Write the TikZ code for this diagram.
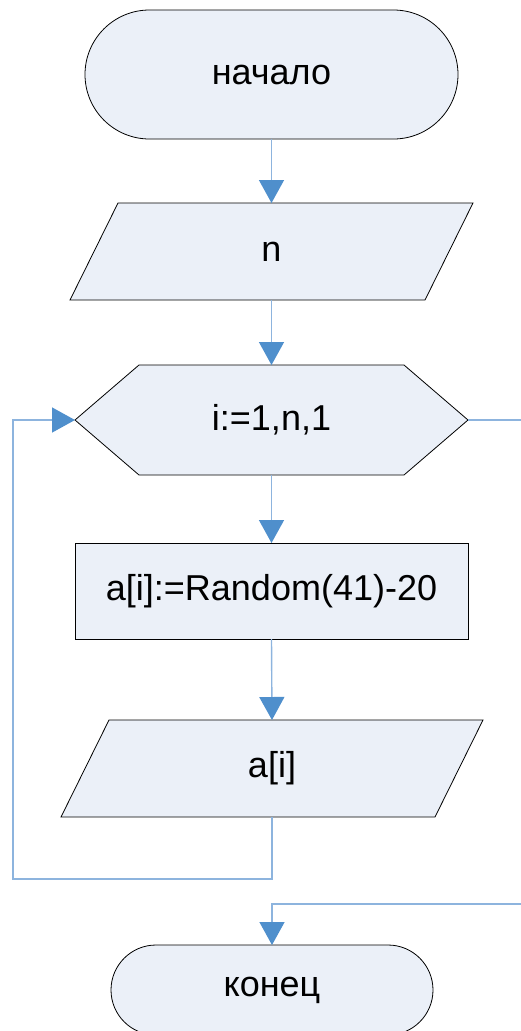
\documentclass[tikz,border=0pt]{standalone}
\usepackage{fontspec}
\setmainfont{Liberation Sans}
\usetikzlibrary{shapes.misc,arrows.meta}
\definecolor{shapefill}{RGB}{235,240,248}
\definecolor{lineblue}{RGB}{141,180,222}
\definecolor{arrowblue}{RGB}{79,143,204}
\begin{document}
\begin{tikzpicture}[x=1pt,y=-1pt,
  txt/.style={font=\fontsize{36}{40}\selectfont, inner sep=0pt, outer sep=0pt},
  outline/.style={draw=black, line width=0.8pt, fill=shapefill},
  termbox/.style={outline, txt, rounded rectangle, rounded rectangle arc length=180},
  procbox/.style={outline, txt, rectangle},
  frame/.style={txt, rectangle, draw=none},
  conn/.style={draw=lineblue, line width=1.4pt},
  arr/.style={conn, -{Triangle[width=25pt,length=23pt,color=arrowblue]}}
]
\useasboundingbox (0,0) rectangle (520,1031);

% start
\node[termbox, minimum width=373pt, minimum height=129pt] (start) at (271.5,74.5) {начало};

% input n
\filldraw[outline] (118,203) -- (473,203) -- (425,300) -- (70,300) -- cycle;
\node[frame, minimum width=403pt, minimum height=97pt] (in1) at (271.5,251.5) {n};

% loop hexagon
\filldraw[outline] (75,420) -- (139,365) -- (404,365) -- (468,420) -- (404,475) -- (139,475) -- cycle;
\node[frame, minimum width=393pt, minimum height=110pt] (loop) at (271.5,420) {i:=1,n,1};

% process
\node[procbox, minimum width=393pt, minimum height=96pt] (proc) at (271.5,591) {a[i]:=Random(41)-20};

% output a[i]
\filldraw[outline] (109,720) -- (483,720) -- (435,817) -- (61,817) -- cycle;
\node[frame, minimum width=422pt, minimum height=97pt] (out) at (272,768.5) {a[i]};

% end
\node[termbox, minimum width=322pt, minimum height=90pt] (end) at (272,990) {конец};

% helper coordinates
\coordinate (lb) at (13,879);
\coordinate (rt) at (530,904);

% connectors
\draw[arr] (start.south) -- (in1.north);
\draw[arr] (in1.south) -- (loop.north);
\draw[arr] (loop.south) -- (proc.north);
\draw[arr] (proc.south) -- (out.north);
\draw[arr] (out.south) |- (lb) |- (loop.west);
\draw[arr] (loop.east) -| (rt) -| (end.north);
\end{tikzpicture}
\end{document}
